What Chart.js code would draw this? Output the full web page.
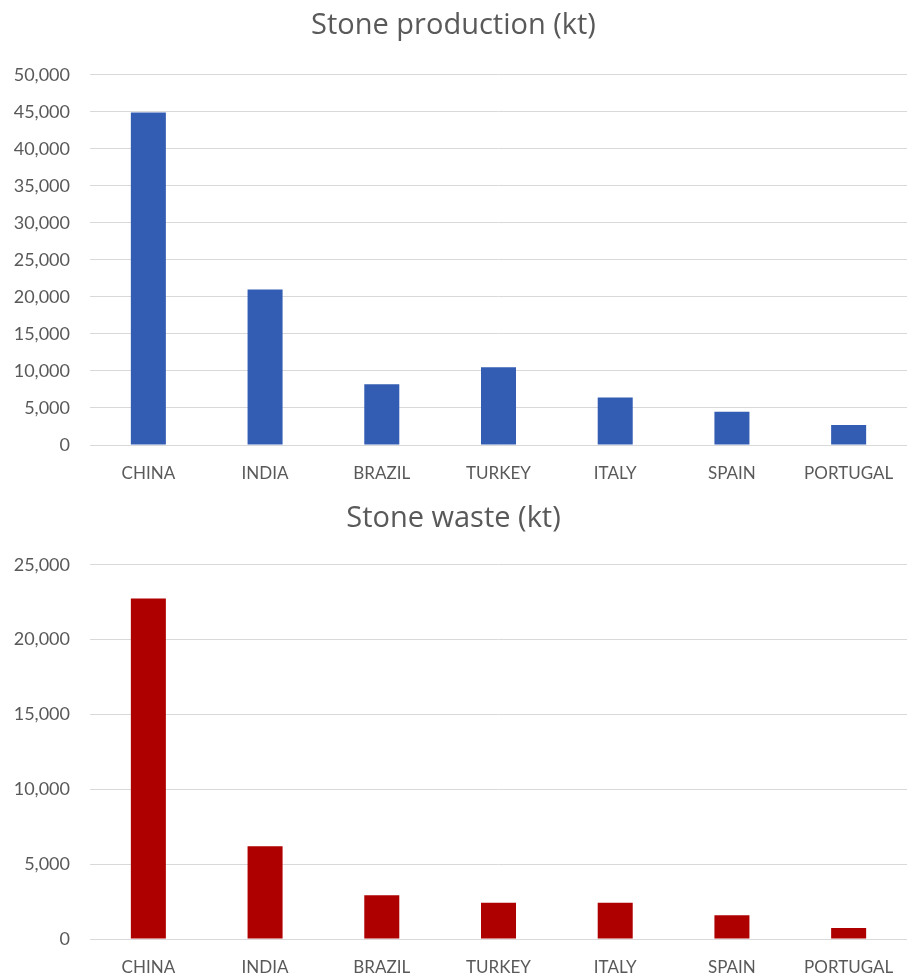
<!DOCTYPE html>
<html>
<head>
<meta charset="utf-8">
<script src="https://cdn.jsdelivr.net/npm/chart.js@4.4.0/dist/chart.umd.min.js"></script>
<style>
  html, body { margin: 0; padding: 0; background: #fff; }
  #wrap { width: 908px; height: 980px; }
  .box { position: relative; width: 908px; }
</style>
</head>
<body>
<div id="wrap">
  <div class="box" style="height:495px"><canvas id="prod"></canvas></div>
  <div class="box" style="height:485px"><canvas id="waste"></canvas></div>
</div>
<script>
var countries = ['CHINA', 'INDIA', 'BRAZIL', 'TURKEY', 'ITALY', 'SPAIN', 'PORTUGAL'];
var production = [44900, 21000, 8200, 10500, 6400, 4500, 2700];
var waste = [22750, 6200, 2920, 2420, 2420, 1580, 730];
var prodTicks = { min: 0, max: 50000, step: 5000 };
var wasteTicks = { min: 0, max: 25000, step: 5000 };

var grey = '#595959';
var fontName = 'Lato, "Open Sans", sans-serif';
var titleFont = '"Open Sans", Lato, sans-serif';

function makeChart(id, title, values, color, ticks, pad) {
  return new Chart(document.getElementById(id), {
    type: 'bar',
    data: {
      labels: countries,
      datasets: [{
        label: title,
        data: values,
        backgroundColor: color,
        borderWidth: 0,
        barPercentage: 0.6,
        categoryPercentage: 0.5
      }]
    },
    options: {
      responsive: true,
      maintainAspectRatio: false,
      animation: false,
      layout: { padding: { left: 0, right: 1, top: 0, bottom: pad.bottom } },
      plugins: {
        legend: { display: false },
        tooltip: { enabled: false },
        title: {
          display: true,
          text: title,
          color: grey,
          font: { family: titleFont, size: 29, weight: 'normal' },
          padding: { top: pad.titleTop, bottom: pad.titleBottom }
        }
      },
      scales: {
        x: {
          grid: { display: false, drawTicks: false },
          border: { display: false },
          ticks: { color: grey, font: { family: fontName, size: 17 }, padding: 18, maxRotation: 0 },
          afterFit: function(scale) {
            scale.height = pad.xHeight;
            scale.paddingLeft = 0;
            scale.paddingRight = 0;
          }
        },
        y: {
          min: ticks.min,
          max: ticks.max,
          grid: { color: '#d9d9d9', lineWidth: 1, drawTicks: false },
          border: { display: false },
          ticks: {
            stepSize: ticks.step,
            color: grey,
            padding: 20,
            font: { family: fontName, size: 18 },
            callback: function(v) { return v.toLocaleString('en-US'); }
          },
          afterFit: function(scale) { scale.width = 90; }
        }
      }
    }
  });
}

makeChart('prod', 'Stone production (kt)', production, '#335cb3', prodTicks,
  { titleTop: 8, titleBottom: 32, xHeight: 45, bottom: 5 });
makeChart('waste', 'Stone waste (kt)', waste, '#af0000', wasteTicks,
  { titleTop: 6, titleBottom: 29, xHeight: 40, bottom: 1 });
</script>
</body>
</html>
